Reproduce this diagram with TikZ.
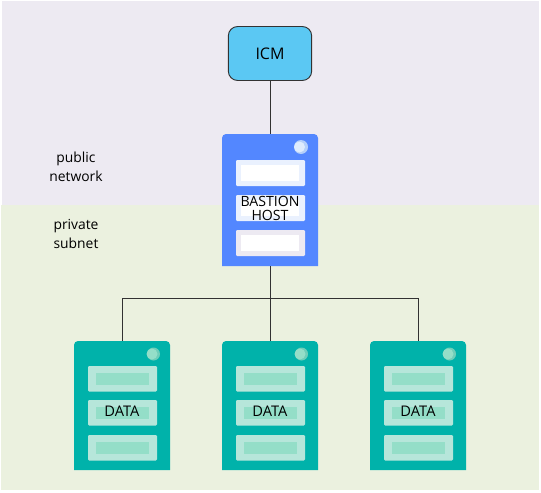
\documentclass[tikz,border=0pt]{standalone}
\usepackage{fontspec}
\setmainfont{Open Sans}
\definecolor{pubbg}{RGB}{237,234,242}
\definecolor{privbg}{RGB}{235,241,223}
\definecolor{icmfill}{RGB}{91,200,243}
\definecolor{bastion}{RGB}{83,135,255}
\definecolor{dataserv}{RGB}{0,178,170}
\definecolor{dataslot}{RGB}{182,230,218}
\definecolor{datainner}{RGB}{148,222,200}
\definecolor{datadot}{RGB}{148,222,200}
\definecolor{datadotb}{RGB}{110,205,185}
\definecolor{bslot}{RGB}{234,241,254}
\definecolor{bdot}{RGB}{222,236,253}
\definecolor{bdotb}{RGB}{180,208,250}
\definecolor{conn}{RGB}{50,50,50}
\tikzset{
  x=0.75pt,y=-0.75pt,
  lbl/.style={inner sep=0pt,align=center,text=black,font=\fontsize{10.4pt}{14pt}\selectfont},
  srvlabel/.style={inner sep=0pt,align=center,text=black,font=\fontsize{10.6pt}{10pt}\selectfont},
  datalabel/.style={srvlabel,font=\fontsize{11pt}{12pt}\selectfont},
  wire/.style={draw=conn,line width=0.7pt},
  hub/.style={inner sep=0pt,minimum size=0pt},
}
\begin{document}
\begin{tikzpicture}
\useasboundingbox (0,0) rectangle (541,492);
\fill[white] (0,0) rectangle (541,492);
\fill[pubbg] (2,1) rectangle (539,205);
\fill[privbg] (1,205) rectangle (539,490);
% bastion host
\fill[bastion] (222,266) [rounded corners=3pt] -- (222,134) -- (318,134) [sharp corners] -- (318,266) -- cycle;
\fill[bdotb] (301,147) circle[radius=7];
\fill[bdot] (299.5,147) circle[radius=5.5];
\foreach \t/\c in {160/bslot,195/bslot,230/pubbg}{
  \fill[\c,rounded corners=0.8pt] (236,\t) rectangle (305,\t+26);
  \fill[white] (241,\t+5) rectangle (299,\t+21);
}
% data servers
\foreach \l in {74,222,370}{
  \fill[dataserv] (\l,470) [rounded corners=3pt] -- (\l,341) -- (\l+96,341) [sharp corners] -- (\l+96,470) -- cycle;
  \fill[datadotb] (\l+79.5,354) circle[radius=6.5];
  \fill[datadot] (\l+78,354) circle[radius=5.5];
  \foreach \t in {366,400,435}{
    \fill[dataslot,rounded corners=0.8pt] (\l+14,\t) rectangle (\l+83,\t+25.5);
    \fill[datainner] (\l+22,\t+7) rectangle (\l+75,\t+19);
  }
}
% nodes
\node[draw=black!80,line width=0.7pt,fill=icmfill,rounded corners=7pt,minimum width=62.5pt,minimum height=40.5pt,inner sep=0pt,font=\fontsize{12pt}{13pt}\selectfont,text=black] (icm) at (270,53.5) {ICM};
\node[hub,minimum width=72pt,minimum height=99pt] (bastionnode) at (270,200) {};
\node[srvlabel] (bastionlabel) at (270,208.5) {BASTION\\HOST};
\node[hub,minimum width=72pt,minimum height=96.75pt] (d1) at (122,405.5) {};
\node[hub,minimum width=72pt,minimum height=96.75pt] (d2) at (270,405.5) {};
\node[hub,minimum width=72pt,minimum height=96.75pt] (d3) at (418,405.5) {};
\node[datalabel] (dl1) at (122,411) {DATA};
\node[datalabel] (dl2) at (270,411) {DATA};
\node[datalabel] (dl3) at (418,411) {DATA};
\node[lbl] (pub) at (76,167) {public\\network};
\node[lbl] (priv) at (76,234) {private\\subnet};
\coordinate (bus) at (270,298);
% connectors
\draw[wire] (icm.south) -- (bastionnode.north);
\draw[wire] (bastionnode.south) -- (bus);
\draw[wire] (d1.north) |- (bus);
\draw[wire] (d3.north) |- (bus);
\draw[wire] (d2.north) -- (bus);
\end{tikzpicture}
\end{document}
